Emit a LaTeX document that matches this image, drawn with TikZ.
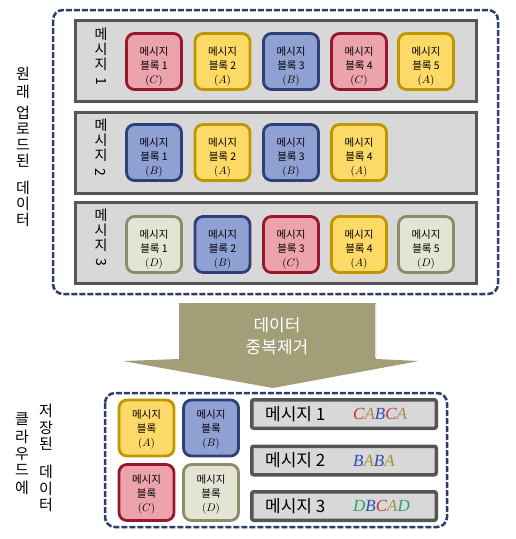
\documentclass[tikz,border=0pt]{standalone}
\usepackage{fontspec}
\newfontfamily\kr{Noto Sans CJK KR}
\newfontfamily\lserif{Liberation Serif}
\usetikzlibrary{calc}
\definecolor{navy}{HTML}{2C3E6E}
\definecolor{rowfill}{HTML}{D8D8D8}
\definecolor{rowline}{HTML}{555555}
\definecolor{cfill}{HTML}{ECA3AB}
\definecolor{cline}{HTML}{97172C}
\definecolor{afill}{HTML}{FDDA68}
\definecolor{aline}{HTML}{BE9600}
\definecolor{bfill}{HTML}{8FA0D2}
\definecolor{bline}{HTML}{2D4178}
\definecolor{dfill}{HTML}{E4E4D4}
\definecolor{dline}{HTML}{8C8C69}
\definecolor{arrowc}{HTML}{A19E78}
\definecolor{lC}{HTML}{C8303C}
\definecolor{lA}{HTML}{A8903A}
\definecolor{lB}{HTML}{3050B0}
\definecolor{lD}{HTML}{2AA070}
\tikzset{
  dashframe/.style={draw=navy, line width=2.5pt, dash pattern=on 6pt off 2pt, rounded corners=10pt},
  rowbox/.style={draw=rowline, fill=rowfill, line width=3pt, minimum width=401pt, minimum height=81pt, inner sep=0pt},
  blk/.style={line width=2.8pt, rounded corners=8pt, minimum width=55pt, minimum height=56pt, inner sep=0pt},
  blkC/.style={blk, draw=cline, fill=cfill},
  blkA/.style={blk, draw=aline, fill=afill},
  blkB/.style={blk, draw=bline, fill=bfill},
  blkD/.style={blk, draw=dline, fill=dfill},
  blktxt/.style={align=center, inner sep=0pt, font=\kr\fontsize{10.5}{14}\selectfont},
  rlab/.style={inner sep=0pt, font=\kr\fontsize{14}{14}\selectfont},
  sidelab/.style={inner sep=0pt, font=\kr\fontsize{15}{15}\selectfont},
  bar/.style={draw=rowline, fill=rowfill, line width=3.5pt, rounded corners=2pt, minimum width=184.5pt, minimum height=28.5pt, inner sep=0pt},
  bartxt/.style={inner sep=0pt, font=\kr\fontsize{17}{17}\selectfont},
  lettxt/.style={inner sep=0pt, font=\lserif\itshape\fontsize{17}{17}\selectfont},
  arrowtxt/.style={align=center, text=white, inner sep=0pt, font=\kr\fontsize{17}{22}\selectfont}
}
\newcommand\mblk[6]{% name, x, y, style, text, offset
  \node[#4] (#1) at (#2,#3) {};
  \node[blktxt] (#1t) at (#2,#3+#6) {#5};
}
\newcommand\mrowlab[3]{% name, cy, digit
  \node[rlab] (#1a) at (101,#2-27) {메};
  \node[rlab] (#1b) at (101,#2-12) {시};
  \node[rlab] (#1c) at (101,#2+3) {지};
  \node[rlab, rotate=-90] (#1d) at (101,#2+20) {#3};
}
\begin{document}
\begin{tikzpicture}[x=1pt,y=-1pt]
\useasboundingbox (0,0) rectangle (516,539);
% top frame
\draw[dashframe] (53,10) rectangle (498,294);
% rows
\node[rowbox] (r1) at (276,61) {};
\node[rowbox] (r2) at (276,152.5) {};
\node[rowbox] (r3) at (276,242.5) {};
\mrowlab{l1}{61}{1}
\mrowlab{l2}{152.5}{2}
\mrowlab{l3}{242.5}{3}
% row 1
\mblk{b11}{154}{61.5}{blkC}{메시지\\블록 1\\$(C)$}{5}
\mblk{b12}{222.5}{61.5}{blkA}{메시지\\블록 2\\$(A)$}{5}
\mblk{b13}{291}{61.5}{blkB}{메시지\\블록 3\\$(B)$}{5}
\mblk{b14}{359}{61.5}{blkC}{메시지\\블록 4\\$(C)$}{5}
\mblk{b15}{426}{61.5}{blkA}{메시지\\블록 5\\$(A)$}{5}
% row 2
\mblk{b21}{154}{152.5}{blkB}{메시지\\블록 1\\$(B)$}{5}
\mblk{b22}{222.5}{152.5}{blkA}{메시지\\블록 2\\$(A)$}{5}
\mblk{b23}{291}{152.5}{blkB}{메시지\\블록 3\\$(B)$}{5}
\mblk{b24}{359}{152.5}{blkA}{메시지\\블록 4\\$(A)$}{5}
% row 3
\mblk{b31}{154}{244.5}{blkD}{메시지\\블록 1\\$(D)$}{5}
\mblk{b32}{222.5}{244.5}{blkB}{메시지\\블록 2\\$(B)$}{5}
\mblk{b33}{291}{244.5}{blkC}{메시지\\블록 3\\$(C)$}{5}
\mblk{b34}{359}{244.5}{blkA}{메시지\\블록 4\\$(A)$}{5}
\mblk{b35}{426}{244.5}{blkD}{메시지\\블록 5\\$(D)$}{5}
% left label (top)
\foreach \ch/\yy [count=\i] in {원/74,래/92,업/113,로/129,드/145,된/161,데/188,이/204,터/220}
  \node[sidelab] (tl\i) at (23,\yy) {\ch};
% arrow
\fill[arrowc] (179,303) -- (376,303) -- (376,359) -- (419,361) -- (273,388) -- (123,361) -- (179,359) -- cycle;
\draw[white!70!arrowc, line width=1pt] (375.5,304) -- (375.5,358);
\node[arrowtxt] (dedup) at (277,336) {데이터\\중복제거};
% bottom frame
\draw[dashframe] (105,393) rectangle (447,527);
\mblk{ba}{146.5}{428}{blkA}{메시지\\블록\\$(A)$}{2}
\mblk{bb}{211}{428}{blkB}{메시지\\블록\\$(B)$}{2}
\mblk{bc}{146.5}{492.5}{blkC}{메시지\\블록\\$(C)$}{2}
\mblk{bd}{211}{492.5}{blkD}{메시지\\블록\\$(D)$}{2}
% bars
\node[bar] (m1) at (344,414) {};
\node[bar] (m2) at (344,460.5) {};
\node[bar] (m3) at (344,506) {};
\node[bartxt, anchor=west] (m1t) at (265,414) {메시지 1};
\node[bartxt, anchor=west] (m2t) at (265,460.5) {메시지 2};
\node[bartxt, anchor=west] (m3t) at (265,506) {메시지 3};
\node[lettxt, anchor=west] (m1l) at (353,414) {\textcolor{lC}{C}\textcolor{lA}{A}\textcolor{lB}{B}\textcolor{lC}{C}\textcolor{lA}{A}};
\node[lettxt, anchor=west] (m2l) at (353,460.5) {\textcolor{lB}{B}\textcolor{lA}{A}\textcolor{lB}{B}\textcolor{lA}{A}};
\node[lettxt, anchor=west] (m3l) at (353,506) {\textcolor{lD}{D}\textcolor{lB}{B}\textcolor{lC}{C}\textcolor{lA}{A}\textcolor{lD}{D}};
% bottom left label
\foreach \ch/\yy [count=\i] in {클/419,라/437,우/454,드/470,에/488}
  \node[sidelab] (bl\i) at (22,\yy) {\ch};
\foreach \ch/\yy [count=\i] in {저/411,장/428,된/444,데/472,이/489,터/505}
  \node[sidelab] (br\i) at (46,\yy) {\ch};
\end{tikzpicture}
\end{document}
